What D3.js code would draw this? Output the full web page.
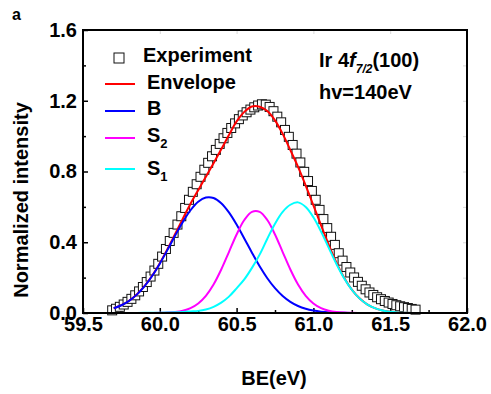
<!DOCTYPE html>
<html>
<head>
<meta charset="utf-8">
<script src="https://cdn.jsdelivr.net/npm/d3@7"></script>
<style>
  body { margin: 0; background: #fff; }
  text { font-family: "Liberation Sans", Arial, sans-serif; font-weight: bold; fill: #000; }
</style>
</head>
<body>
<div id="chart"></div>
<script>
// experimental points (squares)
const expX = [59.690,59.715,59.740,59.765,59.790,59.815,59.840,59.865,59.890,59.915,
  59.940,59.965,59.990,60.015,60.040,60.065,60.090,60.115,60.140,60.165,
  60.190,60.215,60.240,60.265,60.290,60.315,60.340,60.365,60.390,60.415,
  60.440,60.465,60.490,60.515,60.540,60.565,60.590,60.615,60.640,60.665,
  60.690,60.715,60.740,60.765,60.790,60.815,60.840,60.865,60.890,60.915,
  60.940,60.965,60.990,61.015,61.040,61.065,61.090,61.115,61.140,61.165,
  61.190,61.215,61.240,61.265,61.290,61.315,61.340,61.365,61.390,61.415,
  61.440,61.465,61.490,61.515,61.540,61.565,61.590,61.615,61.640,61.665];
const expY = [0.015,0.024,0.035,0.048,0.063,0.080,0.100,0.122,0.147,0.175,
  0.206,0.240,0.278,0.319,0.362,0.407,0.453,0.500,0.547,0.594,
  0.640,0.685,0.728,0.770,0.810,0.849,0.886,0.922,0.956,0.988,
  1.018,1.046,1.072,1.096,1.117,1.135,1.150,1.163,1.173,1.180,
  1.178,1.165,1.141,1.110,1.078,1.035,0.996,0.950,0.901,0.851,
  0.798,0.746,0.690,0.640,0.583,0.531,0.480,0.431,0.385,0.338,
  0.296,0.260,0.229,0.201,0.176,0.154,0.134,0.116,0.102,0.089,
  0.078,0.068,0.059,0.051,0.044,0.038,0.033,0.028,0.023,0.019];

// fitted components
const fitX = [59.70,59.75,59.80,59.85,59.90,59.95,60.00,60.05,60.10,60.15,
  60.20,60.25,60.30,60.35,60.40,60.45,60.50,60.55,60.60,60.65,
  60.70,60.75,60.80,60.85,60.90,60.95,61.00,61.05,61.10,61.15,
  61.20,61.25,61.30,61.35,61.40,61.45,61.50,61.55,61.60,61.65];
const envelope = [0.0271,0.0442,0.0694,0.1046,0.1515,0.2106,0.2818,0.3620,0.4471,0.5336,
  0.6173,0.6946,0.7700,0.8464,0.9253,1.0060,1.0834,1.1371,1.1677,1.1662,
  1.1422,1.0893,1.0126,0.9208,0.8263,0.7205,0.6088,0.4950,0.3849,0.2849,
  0.1999,0.1327,0.0831,0.0491,0.0272,0.0143,0.0071,0.0033,0.0015,0.0006];
const peakB = [0.0266,0.0437,0.0688,0.1039,0.1506,0.2093,0.2790,0.3568,0.4376,0.5148,
  0.5809,0.6288,0.6528,0.6501,0.6210,0.5689,0.5000,0.4215,0.3408,0.2643,
  0.1966,0.1403,0.0960,0.0630,0.0397,0.0240,0.0139,0.0077,0.0041,0.0021,
  0.0010,0.0005,0.0002,0.0001,0,0,0,0,0,0];
const peakS2 = [0,0,0,0,0.0001,0.0003,0.0008,0.0022,0.0055,0.0128,
  0.0274,0.0538,0.0971,0.1612,0.2458,0.3446,0.4440,0.5256,0.5719,0.5719,
  0.5256,0.4440,0.3446,0.2458,0.1612,0.0971,0.0538,0.0274,0.0128,0.0055,
  0.0022,0.0008,0.0003,0.0001,0,0,0,0,0,0];
const peakS1 = [0.0005,0.0005,0.0006,0.0007,0.0008,0.0010,0.0020,0.0030,0.0040,0.0060,
  0.0090,0.0120,0.0201,0.0351,0.0585,0.0925,0.1394,0.1900,0.2550,0.3300,
  0.4200,0.5050,0.5720,0.6120,0.6254,0.5994,0.5411,0.4599,0.3680,0.2773,
  0.1967,0.1314,0.0826,0.0489,0.0272,0.0143,0.0071,0.0033,0.0015,0.0006];

const xMajor = [59.5,60.0,60.5,61.0,61.5,62.0];
const xMinor = [59.75,60.25,60.75,61.25,61.75];
const yMajor = [0.0,0.4,0.8,1.2,1.6];
const yMinor = [0.2,0.6,1.0,1.4];

const series = [
  {name: "Envelope", values: envelope, color: "#ff0000"},
  {name: "B", values: peakB, color: "#0000ff"},
  {name: "S", sub: "2", values: peakS2, color: "#ff00ff"},
  {name: "S", sub: "1", values: peakS1, color: "#00ffff"}
];

const W = 491, H = 394;
const margin = {top: 30, right: 24, bottom: 81, left: 83};
const width = W - margin.left - margin.right;
const height = H - margin.top - margin.bottom;

const svg = d3.select("#chart").append("svg")
  .attr("width", W).attr("height", H);
const g = svg.append("g")
  .attr("transform", "translate(" + margin.left + "," + margin.top + ")");

const x = d3.scaleLinear().domain([59.5, 62.0]).range([0, width]);
const y = d3.scaleLinear().domain([0, 1.6]).range([height, 0]);

// faint ticks on top and right
g.append("g")
  .call(d3.axisTop(x).tickValues(xMajor).tickSize(-4).tickFormat(""))
  .call(a => a.select(".domain").remove())
  .selectAll("line").attr("stroke", "#d8d8d8");
g.append("g").attr("transform", "translate(" + width + ",0)")
  .call(d3.axisRight(y).tickValues(yMajor.concat(yMinor)).tickSize(-4).tickFormat(""))
  .call(a => a.select(".domain").remove())
  .selectAll("line").attr("stroke", "#d8d8d8");

// bottom axis
const xAxis = g.append("g").attr("transform", "translate(0," + height + ")")
  .call(d3.axisBottom(x).tickValues(xMajor).tickSizeInner(-5).tickSizeOuter(0)
    .tickPadding(4).tickFormat(d3.format(".1f")));
xAxis.selectAll("line").attr("stroke-width", 1.5);
xAxis.selectAll("text").attr("font-size", 20);
xAxis.select(".domain").remove();
g.append("g").attr("transform", "translate(0," + height + ")")
  .call(d3.axisBottom(x).tickValues(xMinor).tickSize(-3).tickFormat(""))
  .call(a => a.select(".domain").remove())
  .selectAll("line").attr("stroke-width", 1.5);

// left axis
const yAxis = g.append("g")
  .call(d3.axisLeft(y).tickValues(yMajor).tickSizeInner(-5).tickSizeOuter(0)
    .tickPadding(6).tickFormat(d3.format(".1f")));
yAxis.selectAll("line").attr("stroke-width", 1.5);
yAxis.selectAll("text").attr("font-size", 20);
yAxis.select(".domain").remove();
g.append("g")
  .call(d3.axisLeft(y).tickValues(yMinor).tickSize(-3).tickFormat(""))
  .call(a => a.select(".domain").remove())
  .selectAll("line").attr("stroke-width", 1.5);

// experiment squares
const sq = 9;
g.append("g").selectAll("rect")
  .data(expX.map((d, i) => ({x: d, y: expY[i]})))
  .join("rect")
  .attr("x", d => x(d.x) - sq / 2)
  .attr("y", d => y(d.y) - sq / 2)
  .attr("width", sq).attr("height", sq)
  .attr("fill", "#fff").attr("stroke", "#111").attr("stroke-width", 1);

// fit curves
const line = d3.line()
  .x((d, i) => x(fitX[i]))
  .y(d => y(d))
  .curve(d3.curveCatmullRom.alpha(0.5));

series.forEach(s => {
  g.append("path")
    .datum(s.values)
    .attr("fill", "none")
    .attr("stroke", s.color)
    .attr("stroke-width", 2)
    .attr("d", line);
});

// frame
g.append("rect")
  .attr("width", width).attr("height", height)
  .attr("fill", "none").attr("stroke", "#000").attr("stroke-width", 2);

// legend
const leg = svg.append("g");
leg.append("rect").attr("x", 114).attr("y", 53).attr("width", 10).attr("height", 10)
  .attr("fill", "#fff").attr("stroke", "#111");
leg.append("text").attr("x", 143).attr("y", 62).attr("font-size", 20).text("Experiment");
const legY = [84, 111, 138, 169];
const legBase = [89, 115, 142, 175];
series.forEach((s, i) => {
  leg.append("line").attr("x1", 105).attr("x2", 135)
    .attr("y1", legY[i]).attr("y2", legY[i])
    .attr("stroke", s.color).attr("stroke-width", 2);
  const t = leg.append("text").attr("x", 147).attr("y", legBase[i]).attr("font-size", 20);
  t.append("tspan").text(s.name);
  if (s.sub) t.append("tspan").attr("font-size", 13).attr("dy", 6).text(s.sub);
});

// annotation
const ann = svg.append("text").attr("x", 319).attr("y", 67).attr("font-size", 20);
ann.append("tspan").text("Ir 4");
ann.append("tspan").attr("font-style", "italic").text("f");
ann.append("tspan").attr("font-style", "italic").attr("font-size", 12).attr("dy", 6).text("7/2");
ann.append("tspan").attr("dy", -6).text("(100)");
svg.append("text").attr("x", 319).attr("y", 99).attr("font-size", 20).text("hv=140eV");

// axis titles
svg.append("text").attr("x", 274).attr("y", 385).attr("font-size", 20)
  .attr("text-anchor", "middle").text("BE(eV)");
svg.append("text").attr("transform", "translate(28,200) rotate(-90)")
  .attr("font-size", 20).attr("text-anchor", "middle").text("Normalized intensity");

// panel letter
svg.append("text").attr("x", 12).attr("y", 20).attr("font-size", 16).text("a");
</script>
</body>
</html>
